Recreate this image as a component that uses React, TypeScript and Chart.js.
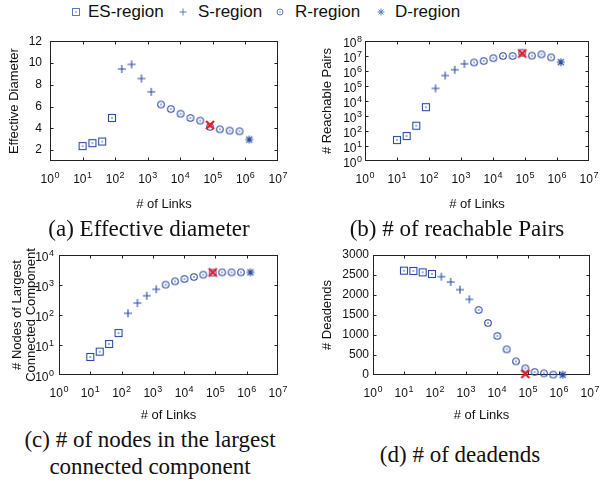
import React, { useEffect, useRef } from "react";
import { Chart, registerables } from "chart.js";

Chart.register(...registerables);
Chart.defaults.font.family = "'Liberation Sans', Arial, sans-serif";

// ---------------- data ----------------
const ES_LINKS = [10, 20, 40, 80];
const S_LINKS = [160, 320, 640, 1280];
const R_LINKS = [2560, 5120, 10240, 20480, 40960, 81920, 163840, 327680, 655360];
const D_LINKS = [1310720];
const CROSS_LINKS = [81920];

const X_TICKS = [1, 10, 100, 1000, 1e4, 1e5, 1e6, 1e7];

const DIAM_ES = [2.37, 2.64, 2.79, 4.95];
const DIAM_S = [9.45, 9.87, 8.57, 7.35];
const DIAM_R = [6.19, 5.77, 5.34, 4.95, 4.71, 4.13, 3.91, 3.79, 3.73];
const DIAM_D = [2.97];
const DIAM_CROSS = [4.31];
const DIAM_TICKS = [2, 4, 6, 8, 10, 12];

const PAIRS_ES = [25, 46, 224, 3900];
const PAIRS_S = [69000, 500000, 1200000, 3000000];
const PAIRS_R = [3700000, 4600000, 7200000, 10000000, 10000000, 16600000, 10500000, 12900000, 8100000];
const PAIRS_D = [3900000];
const PAIRS_CROSS = [14800000];
const PAIRS_TICKS = [1, 10, 100, 1000, 1e4, 1e5, 1e6, 1e7, 1e8];

const NODES_ES = [4, 6, 10.8, 25];
const NODES_S = [114, 250, 440, 720];
const NODES_R = [1026, 1325, 1585, 1848, 2210, 2578, 2640, 2640, 2640];
const NODES_D = [2640];
const NODES_CROSS = [2630];
const NODES_TICKS = [1, 10, 100, 1000, 1e4];

const DEAD_ES = [2608, 2600, 2567, 2525];
const DEAD_S = [2458, 2325, 2133, 1892];
const DEAD_R = [1625, 1300, 975, 642, 342, 167, 75, 42, 10];
const DEAD_D = [5];
const DEAD_CROSS = [25];
const DEAD_TICKS = [0, 500, 1000, 1500, 2000, 2500, 3000];

const LEGEND_LABELS = ["ES-region", "S-region", "R-region", "D-region"];

// ---------------- styles ----------------
const BLUE = "#2b4ba3";
const LEGEND_BLUE = "#5a78c2";
const RED = "#e51c23";
const AXIS = "#222222";
const TEXT = "#111111";
const SANS = "'Liberation Sans', Arial, sans-serif";
const SERIF = "'Liberation Serif', 'Times New Roman', serif";

function makeMarker(kind: string): HTMLCanvasElement {
  const c = document.createElement("canvas");
  const s = 12;
  c.width = s;
  c.height = s;
  const g = c.getContext("2d")!;
  const m = s / 2;
  g.strokeStyle = kind === "cross" ? RED : BLUE;
  g.fillStyle = BLUE;
  g.lineWidth = 1.1;
  g.lineCap = "butt";
  if (kind === "square") {
    g.strokeRect(m - 3.5, m - 3.5, 7, 7);
    g.beginPath();
    g.arc(m, m, 0.8, 0, Math.PI * 2);
    g.fill();
  } else if (kind === "circle") {
    g.beginPath();
    g.arc(m, m, 3.3, 0, Math.PI * 2);
    g.stroke();
    g.beginPath();
    g.arc(m, m, 0.8, 0, Math.PI * 2);
    g.fill();
  } else if (kind === "plus") {
    g.beginPath();
    g.moveTo(m - 4, m);
    g.lineTo(m + 4, m);
    g.moveTo(m, m - 4);
    g.lineTo(m, m + 4);
    g.stroke();
  } else if (kind === "star") {
    g.beginPath();
    g.moveTo(m - 4, m);
    g.lineTo(m + 4, m);
    g.moveTo(m, m - 4);
    g.lineTo(m, m + 4);
    g.moveTo(m - 3, m - 3);
    g.lineTo(m + 3, m + 3);
    g.moveTo(m - 3, m + 3);
    g.lineTo(m + 3, m - 3);
    g.stroke();
  } else if (kind === "cross") {
    g.lineWidth = 2.2;
    g.beginPath();
    g.moveTo(m - 4, m - 4);
    g.lineTo(m + 4, m + 4);
    g.moveTo(m - 4, m + 4);
    g.lineTo(m + 4, m - 4);
    g.stroke();
  }
  return c;
}

const framePlugin = {
  id: "frame",
  beforeDatasetsDraw(chart: any) {
    const { ctx, chartArea } = chart;
    const x = chart.scales.x;
    const y = chart.scales.y;
    const L = Math.round(chartArea.left) + 0.5;
    const R = Math.round(chartArea.right) - 0.5;
    const T = Math.round(chartArea.top) + 0.5;
    const B = Math.round(chartArea.bottom) - 0.5;
    const tl = 3;
    ctx.save();
    ctx.strokeStyle = AXIS;
    ctx.lineWidth = 1;
    ctx.strokeRect(L, T, R - L, B - T);
    ctx.beginPath();
    x.ticks.forEach((t: any) => {
      const px = Math.round(x.getPixelForValue(t.value)) + 0.5;
      if (px > L + 1 && px < R - 1) {
        ctx.moveTo(px, B);
        ctx.lineTo(px, B - tl);
        ctx.moveTo(px, T);
        ctx.lineTo(px, T + tl);
      }
    });
    y.ticks.forEach((t: any) => {
      const py = Math.round(y.getPixelForValue(t.value)) + 0.5;
      if (py > T + 1 && py < B - 1) {
        ctx.moveTo(L, py);
        ctx.lineTo(L + tl, py);
        ctx.moveTo(R, py);
        ctx.lineTo(R - tl, py);
      }
    });
    ctx.stroke();
    ctx.restore();
  },
};

// draws "10" with a raised exponent for the ticks of logarithmic scales
function makePowerTickPlugin(yPad: number) {
  return {
    id: "powerTicks",
    afterDraw(chart: any) {
      const { ctx, chartArea } = chart;
      const baseFont = "12px " + SANS;
      const supFont = "9px " + SANS;
      ctx.save();
      ctx.fillStyle = TEXT;
      ctx.textAlign = "left";
      ctx.textBaseline = "alphabetic";
      ["x", "y"].forEach((id) => {
        const s = chart.scales[id];
        if (s.type !== "logarithmic") return;
        s.ticks.forEach((t: any) => {
          const e = String(Math.round(Math.log10(t.value)));
          ctx.font = baseFont;
          const w1 = ctx.measureText("10").width + 0.5;
          ctx.font = supFont;
          const w2 = ctx.measureText(e).width;
          let x0: number;
          let y0: number;
          if (id === "x") {
            const px = s.getPixelForValue(t.value);
            x0 = px - (w1 + w2) / 2;
            y0 = chartArea.bottom + 22;
          } else {
            const py = s.getPixelForValue(t.value);
            x0 = chartArea.left - yPad - (w1 + w2);
            y0 = py + 6;
          }
          ctx.font = baseFont;
          ctx.fillText("10", x0, y0);
          ctx.font = supFont;
          ctx.fillText(e, x0 + w1, y0 - 5);
        });
      });
      ctx.restore();
    },
  };
}

type PanelDef = {
  canvas: { left: number; top: number; width: number; height: number };
  area: { left: number; top: number; right: number; bottom: number };
  yType: "linear" | "logarithmic";
  yMin: number;
  yMax: number;
  yTicks: number[];
  yTitle: string | string[];
  yTitlePad: number;
  yTickPad: number;
  es: number[];
  s: number[];
  r: number[];
  d: number[];
  cross: number[];
};

const PANELS: PanelDef[] = [
  {
    canvas: { left: 0, top: 26, width: 300, height: 186 },
    area: { left: 50, top: 41, right: 278, bottom: 161 },
    yType: "linear", yMin: 1, yMax: 12, yTicks: DIAM_TICKS,
    yTitle: "Effective Diameter", yTitlePad: 7, yTickPad: 8,
    es: DIAM_ES, s: DIAM_S, r: DIAM_R, d: DIAM_D, cross: DIAM_CROSS,
  },
  {
    canvas: { left: 300, top: 26, width: 300, height: 186 },
    area: { left: 365, top: 41, right: 589, bottom: 161 },
    yType: "logarithmic", yMin: 1, yMax: 1e8, yTicks: PAIRS_TICKS,
    yTitle: "# Reachable Pairs", yTitlePad: 20, yTickPad: 3,
    es: PAIRS_ES, s: PAIRS_S, r: PAIRS_R, d: PAIRS_D, cross: PAIRS_CROSS,
  },
  {
    canvas: { left: 0, top: 238, width: 300, height: 185 },
    area: { left: 59, top: 255, right: 278, bottom: 375 },
    yType: "logarithmic", yMin: 1, yMax: 1e4, yTicks: NODES_TICKS,
    yTitle: ["# Nodes of Largest", "Connected Component"], yTitlePad: 10, yTickPad: 5,
    es: NODES_ES, s: NODES_S, r: NODES_R, d: NODES_D, cross: NODES_CROSS,
  },
  {
    canvas: { left: 300, top: 238, width: 300, height: 185 },
    area: { left: 373, top: 255, right: 590, bottom: 375 },
    yType: "linear", yMin: 0, yMax: 3000, yTicks: DEAD_TICKS,
    yTitle: "# Deadends", yTitlePad: 20, yTickPad: 4,
    es: DEAD_ES, s: DEAD_S, r: DEAD_R, d: DEAD_D, cross: DEAD_CROSS,
  },
];

function Panel({ def }: { def: PanelDef }) {
  const ref = useRef<HTMLCanvasElement>(null);
  useEffect(() => {
    const cv = ref.current!;
    const { canvas, area } = def;
    const yWidth = area.left - canvas.left;
    const xHeight = canvas.top + canvas.height - area.bottom;
    const pts = (xs: number[], ys: number[]) => xs.map((x, i) => ({ x, y: ys[i] }));
    const ds = (data: any[], kind: string) => ({
      data,
      pointStyle: makeMarker(kind),
      pointRadius: 5,
      showLine: false,
      clip: false as any,
    });
    const tickFont = { size: 12, family: SANS };
    const titleFont = { size: 13, family: SANS, lineHeight: 1.1 };
    const yIsLog = def.yType === "logarithmic";
    const chart = new Chart(cv, {
      type: "scatter",
      data: {
        datasets: [
          ds(pts(CROSS_LINKS, def.cross), "cross"),
          ds(pts(ES_LINKS, def.es), "square"),
          ds(pts(S_LINKS, def.s), "plus"),
          ds(pts(R_LINKS, def.r), "circle"),
          ds(pts(D_LINKS, def.d), "star"),
        ],
      },
      options: {
        animation: false,
        responsive: false,
        maintainAspectRatio: false,
        devicePixelRatio: 1,
        events: [],
        layout: {
          padding: {
            left: 0,
            bottom: 0,
            top: area.top - canvas.top,
            right: canvas.left + canvas.width - area.right,
          },
        },
        plugins: { legend: { display: false }, tooltip: { enabled: false } },
        scales: {
          x: {
            type: "logarithmic",
            position: "bottom",
            min: 1,
            max: 1e7,
            afterBuildTicks: (s: any) => {
              s.ticks = X_TICKS.map((v) => ({ value: v }));
            },
            afterFit: (s: any) => {
              s.height = xHeight;
            },
            grid: { display: false, drawTicks: false },
            border: { display: false },
            ticks: { display: false, autoSkip: false },
            title: {
              display: true,
              text: "# of Links",
              font: titleFont,
              color: TEXT,
              padding: { top: 0, bottom: 0 },
            },
          },
          y: {
            type: def.yType,
            position: "left",
            min: def.yMin,
            max: def.yMax,
            afterBuildTicks: (s: any) => {
              s.ticks = def.yTicks.map((v) => ({ value: v }));
            },
            afterFit: (s: any) => {
              s.width = yWidth;
            },
            grid: { display: false, drawTicks: false },
            border: { display: false },
            ticks: {
              display: !yIsLog,
              callback: (v: any) => String(v),
              font: tickFont,
              color: TEXT,
              padding: def.yTickPad,
              autoSkip: false,
            },
            title: {
              display: true,
              text: def.yTitle as any,
              font: titleFont,
              color: TEXT,
              padding: { top: def.yTitlePad, bottom: 0 },
            },
          },
        } as any,
      },
      plugins: [framePlugin, makePowerTickPlugin(def.yTickPad)],
    });
    return () => chart.destroy();
  }, [def]);
  return (
    <canvas
      ref={ref}
      width={def.canvas.width}
      height={def.canvas.height}
      style={{
        position: "absolute",
        left: def.canvas.left,
        top: def.canvas.top,
        width: def.canvas.width,
        height: def.canvas.height,
      }}
    />
  );
}

function LegendMarker({ kind }: { kind: string }) {
  const c = LEGEND_BLUE;
  return (
    <svg width={10} height={10} viewBox="0 0 10 10" style={{ display: "block" }}>
      {kind === "square" && (
        <>
          <rect x={1.5} y={1.5} width={7} height={7} fill="none" stroke={c} strokeWidth={1} />
          <circle cx={5} cy={5} r={0.8} fill={c} />
        </>
      )}
      {kind === "plus" && <path d="M1.5 5 H8.5 M5 1.5 V8.5" stroke={c} strokeWidth={1} />}
      {kind === "circle" && (
        <>
          <circle cx={5} cy={5} r={3} fill="none" stroke={c} strokeWidth={1} />
          <circle cx={5} cy={5} r={0.7} fill={c} />
        </>
      )}
      {kind === "star" && (
        <path d="M1.5 5 H8.5 M5 1.5 V8.5 M2.5 2.5 L7.5 7.5 M2.5 7.5 L7.5 2.5" stroke={c} strokeWidth={1} />
      )}
    </svg>
  );
}

const LEGEND_ITEMS = [
  { kind: "square", mx: 76, tx: 88 },
  { kind: "plus", mx: 183, tx: 198 },
  { kind: "circle", mx: 280, tx: 295 },
  { kind: "star", mx: 381, tx: 395 },
];

const CAPTIONS = [
  { text: ["(a) Effective diameter"], cx: 149, top: 215 },
  { text: ["(b) # of reachable Pairs"], cx: 457, top: 215 },
  { text: ["(c) # of nodes in the largest", "connected component"], cx: 150, top: 426 },
  { text: ["(d) # of deadends"], cx: 460, top: 441 },
];

export default function App() {
  return (
    <div
      style={{
        position: "fixed",
        left: 0,
        top: 0,
        width: 600,
        height: 487,
        background: "#fff",
        overflow: "hidden",
      }}
    >
      {LEGEND_ITEMS.map((it, i) => (
        <React.Fragment key={i}>
          <div style={{ position: "absolute", left: it.mx - 5, top: 7 }}>
            <LegendMarker kind={it.kind} />
          </div>
          <div
            style={{
              position: "absolute",
              left: it.tx,
              top: 2,
              fontFamily: SANS,
              fontSize: 17,
              lineHeight: "20px",
              color: TEXT,
              whiteSpace: "nowrap",
            }}
          >
            {LEGEND_LABELS[i]}
          </div>
        </React.Fragment>
      ))}
      {PANELS.map((p, i) => (
        <Panel key={i} def={p} />
      ))}
      {CAPTIONS.map((c, i) => (
        <div
          key={i}
          style={{
            position: "absolute",
            left: c.cx - 150,
            width: 300,
            top: c.top,
            textAlign: "center",
            fontFamily: SERIF,
            fontSize: 23,
            lineHeight: "27px",
            color: TEXT,
            whiteSpace: "nowrap",
          }}
        >
          {c.text.map((t, j) => (
            <div key={j}>{t}</div>
          ))}
        </div>
      ))}
    </div>
  );
}
